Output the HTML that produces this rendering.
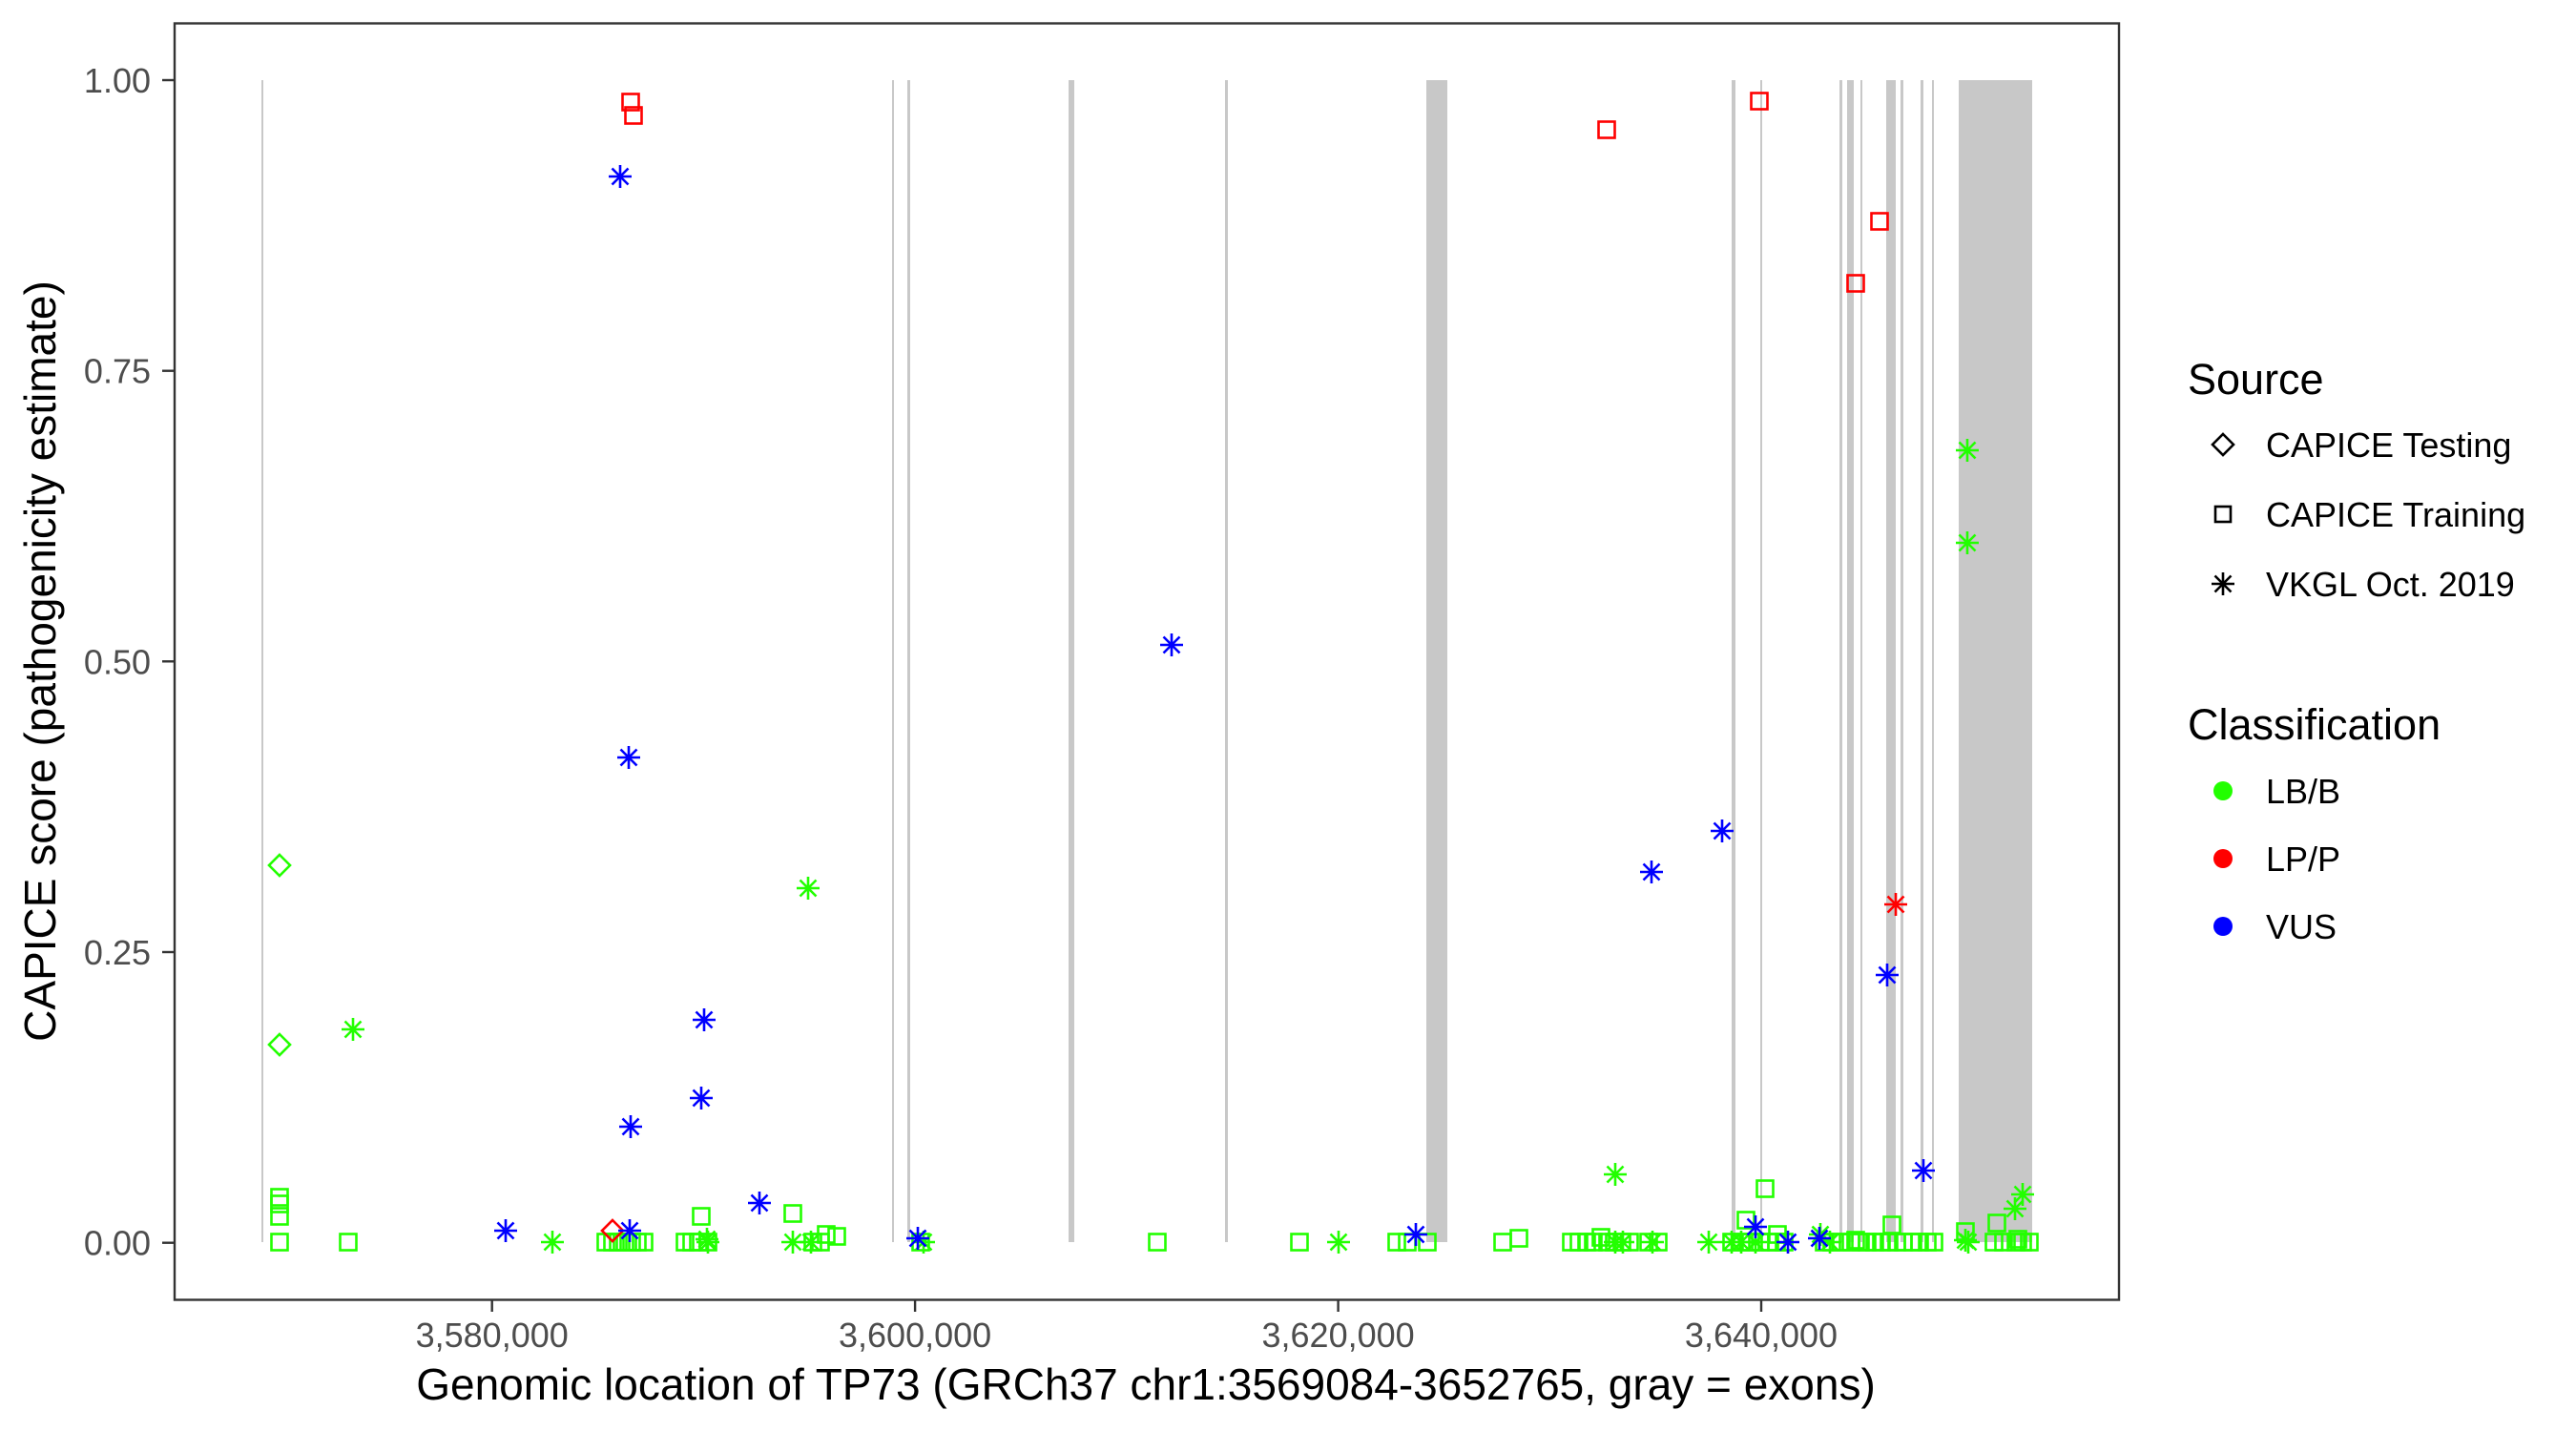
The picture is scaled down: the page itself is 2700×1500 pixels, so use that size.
<!DOCTYPE html>
<html><head><meta charset="utf-8"><style>
html,body{margin:0;padding:0;background:#fff;}
svg{display:block;font-family:"Liberation Sans",Arial,sans-serif;}
</style></head><body>
<svg width="2700" height="1500" viewBox="0 0 2700 1500" xmlns="http://www.w3.org/2000/svg">
<defs>
<symbol id="sq" overflow="visible"><rect x="-8.5" y="-8.5" width="17" height="17" fill="none" stroke="currentColor" stroke-width="2.6"/></symbol>
<symbol id="dia" overflow="visible"><path d="M0,-11 L11,0 L0,11 L-11,0 Z" fill="none" stroke="currentColor" stroke-width="2.6"/></symbol>
<symbol id="ast" overflow="visible"><path d="M-12,0H12M0,-12V12M-8.5,-8.5L8.5,8.5M-8.5,8.5L8.5,-8.5" fill="none" stroke="currentColor" stroke-width="2.6"/></symbol>
</defs>
<rect width="2700" height="1500" fill="#fff"/>
<g fill="#C8C8C8">
<rect x="274" y="84" width="2" height="1218"/>
<rect x="935" y="84" width="2" height="1218"/>
<rect x="951" y="84" width="3" height="1218"/>
<rect x="1120" y="84" width="6" height="1218"/>
<rect x="1284" y="84" width="3" height="1218"/>
<rect x="1495" y="84" width="22" height="1218"/>
<rect x="1815" y="84" width="4" height="1218"/>
<rect x="1845" y="84" width="2" height="1218"/>
<rect x="1928" y="84" width="3" height="1218"/>
<rect x="1936" y="84" width="7" height="1218"/>
<rect x="1950" y="84" width="2" height="1218"/>
<rect x="1977" y="84" width="10" height="1218"/>
<rect x="1992" y="84" width="3" height="1218"/>
<rect x="2013" y="84" width="3" height="1218"/>
<rect x="2025" y="84" width="2" height="1218"/>
<rect x="2053" y="84" width="77" height="1218"/>
</g>
<g style="color:#22ff00">
<use href="#sq" x="293" y="1255"/><use href="#sq" x="293" y="1262"/><use href="#sq" x="293" y="1275"/><use href="#sq" x="293" y="1302"/><use href="#sq" x="365" y="1302"/>
<use href="#sq" x="635" y="1302"/><use href="#sq" x="642" y="1302"/><use href="#sq" x="648" y="1302"/><use href="#sq" x="655" y="1302"/><use href="#sq" x="662" y="1302"/><use href="#sq" x="668" y="1302"/><use href="#sq" x="675" y="1302"/>
<use href="#sq" x="718" y="1302"/><use href="#sq" x="725" y="1302"/><use href="#sq" x="732" y="1302"/><use href="#sq" x="742" y="1302"/><use href="#sq" x="735" y="1275"/>
<use href="#sq" x="831" y="1272"/><use href="#sq" x="852" y="1302"/><use href="#sq" x="866" y="1294"/><use href="#sq" x="877" y="1296"/><use href="#sq" x="860" y="1302"/>
<use href="#sq" x="965" y="1302"/><use href="#sq" x="1213" y="1302"/><use href="#sq" x="1362" y="1302"/><use href="#sq" x="1464" y="1302"/><use href="#sq" x="1475" y="1302"/><use href="#sq" x="1496" y="1302"/><use href="#sq" x="1575" y="1302"/><use href="#sq" x="1592" y="1298"/>
<use href="#sq" x="1647" y="1302"/><use href="#sq" x="1655" y="1302"/><use href="#sq" x="1663" y="1302"/><use href="#sq" x="1670" y="1302"/><use href="#sq" x="1678" y="1297"/><use href="#sq" x="1685" y="1302"/><use href="#sq" x="1692" y="1302"/><use href="#sq" x="1700" y="1302"/><use href="#sq" x="1708" y="1302"/><use href="#sq" x="1728" y="1302"/><use href="#sq" x="1738" y="1302"/>
<use href="#sq" x="1850" y="1246"/><use href="#sq" x="1830" y="1279"/><use href="#sq" x="1863" y="1294"/>
<use href="#sq" x="1815" y="1302"/><use href="#sq" x="1825" y="1302"/><use href="#sq" x="1835" y="1302"/><use href="#sq" x="1845" y="1302"/><use href="#sq" x="1855" y="1302"/><use href="#sq" x="1862" y="1302"/><use href="#sq" x="1870" y="1302"/>
<use href="#sq" x="1912" y="1302"/><use href="#sq" x="1920" y="1302"/><use href="#sq" x="1930" y="1302"/><use href="#sq" x="1940" y="1302"/><use href="#sq" x="1950" y="1302"/><use href="#sq" x="1957" y="1302"/><use href="#sq" x="1945" y="1300"/>
<use href="#sq" x="1965" y="1302"/><use href="#sq" x="1972" y="1302"/><use href="#sq" x="1980" y="1302"/><use href="#sq" x="1988" y="1302"/><use href="#sq" x="1995" y="1302"/><use href="#sq" x="1983" y="1284"/>
<use href="#sq" x="2005" y="1302"/><use href="#sq" x="2012" y="1302"/><use href="#sq" x="2020" y="1302"/><use href="#sq" x="2027" y="1302"/><use href="#sq" x="2060" y="1291"/><use href="#sq" x="2093" y="1282"/>
<use href="#sq" x="2090" y="1302"/><use href="#sq" x="2100" y="1302"/><use href="#sq" x="2113" y="1302"/><use href="#sq" x="2120" y="1302"/><use href="#sq" x="2127" y="1302"/><use href="#sq" x="2115" y="1299"/>
<use href="#ast" x="370" y="1079"/><use href="#ast" x="847" y="931"/><use href="#ast" x="579" y="1302"/><use href="#ast" x="741" y="1299"/><use href="#ast" x="742" y="1302"/><use href="#ast" x="831" y="1302"/><use href="#ast" x="850" y="1302"/><use href="#ast" x="968" y="1302"/><use href="#ast" x="1403" y="1302"/><use href="#ast" x="1693" y="1231"/><use href="#ast" x="1693" y="1302"/><use href="#ast" x="1701" y="1302"/><use href="#ast" x="1732" y="1302"/><use href="#ast" x="1791" y="1302"/><use href="#ast" x="1815" y="1302"/><use href="#ast" x="1825" y="1302"/><use href="#ast" x="1840" y="1302"/><use href="#ast" x="1908" y="1294"/><use href="#ast" x="1918" y="1302"/><use href="#ast" x="2062" y="472"/><use href="#ast" x="2062" y="569"/><use href="#ast" x="2063" y="1302"/><use href="#ast" x="2112" y="1267"/><use href="#ast" x="2120" y="1252"/><use href="#ast" x="2060" y="1300"/>
<use href="#dia" x="293" y="907"/><use href="#dia" x="293" y="1095"/>
</g>
<g style="color:#ff0000">
<use href="#sq" x="661" y="107"/><use href="#sq" x="664" y="121"/><use href="#sq" x="1684" y="136"/><use href="#sq" x="1844" y="106"/><use href="#sq" x="1970" y="232"/><use href="#sq" x="1945" y="297"/>
<use href="#ast" x="1987" y="948"/><use href="#dia" x="642" y="1290"/>
</g>
<g style="color:#0000ff">
<use href="#ast" x="650" y="185"/><use href="#ast" x="659" y="794"/><use href="#ast" x="738" y="1069"/><use href="#ast" x="735" y="1151"/><use href="#ast" x="661" y="1181"/><use href="#ast" x="530" y="1290"/><use href="#ast" x="660" y="1290"/><use href="#ast" x="796" y="1261"/><use href="#ast" x="962" y="1298"/><use href="#ast" x="1228" y="676"/><use href="#ast" x="1484" y="1294"/><use href="#ast" x="1840" y="1286"/><use href="#ast" x="1874" y="1302"/><use href="#ast" x="1907" y="1298"/><use href="#ast" x="2016" y="1227"/><use href="#ast" x="1805" y="871"/><use href="#ast" x="1731" y="914"/><use href="#ast" x="1978" y="1022"/>
</g>
<rect x="183" y="24.5" width="2038" height="1338" fill="none" stroke="#333" stroke-width="2.4"/>
<g stroke="#333" stroke-width="2.4">
<line x1="170" x2="182" y1="84" y2="84"/><line x1="170" x2="182" y1="388.7" y2="388.7"/><line x1="170" x2="182" y1="693.3" y2="693.3"/><line x1="170" x2="182" y1="998" y2="998"/><line x1="170" x2="182" y1="1302.7" y2="1302.7"/>
<line y1="1363" y2="1375" x1="515.7" x2="515.7"/><line y1="1363" y2="1375" x1="959.1" x2="959.1"/><line y1="1363" y2="1375" x1="1402.6" x2="1402.6"/><line y1="1363" y2="1375" x1="1846" x2="1846"/>
</g>
<g fill="#4d4d4d" font-size="36" text-anchor="end">
<text x="158" y="97">1.00</text><text x="158" y="401.7">0.75</text><text x="158" y="706.3">0.50</text><text x="158" y="1011">0.25</text><text x="158" y="1315.7">0.00</text>
</g>
<g fill="#4d4d4d" font-size="36" text-anchor="middle">
<text x="515.7" y="1412">3,580,000</text><text x="959.1" y="1412">3,600,000</text><text x="1402.6" y="1412">3,620,000</text><text x="1846" y="1412">3,640,000</text>
</g>
<text x="1201" y="1467" font-size="46" text-anchor="middle" fill="#000">Genomic location of TP73 (GRCh37 chr1:3569084-3652765, gray = exons)</text>
<text transform="translate(58,693) rotate(-90)" font-size="46" text-anchor="middle" fill="#000">CAPICE score (pathogenicity estimate)</text>
<text x="2293" y="413" font-size="45" fill="#000">Source</text>
<path d="M2330,455 L2341,466 L2330,477 L2319,466 Z" fill="none" stroke="#000" stroke-width="2.6"/>
<rect x="2322" y="531" width="16" height="16" fill="none" stroke="#000" stroke-width="2.6"/>
<path d="M2318,612H2342M2330,600V624M2321.5,603.5L2338.5,620.5M2321.5,620.5L2338.5,603.5" stroke="#000" stroke-width="2.6"/>
<g font-size="36" fill="#000">
<text x="2375" y="479">CAPICE Testing</text><text x="2375" y="552">CAPICE Training</text><text x="2375" y="625">VKGL Oct. 2019</text>
</g>
<text x="2293" y="775" font-size="45" fill="#000">Classification</text>
<circle cx="2330" cy="829" r="10" fill="#22ff00"/><circle cx="2330" cy="900" r="10" fill="#ff0000"/><circle cx="2330" cy="971" r="10" fill="#0000ff"/>
<g font-size="36" fill="#000">
<text x="2375" y="842">LB/B</text><text x="2375" y="913">LP/P</text><text x="2375" y="984">VUS</text>
</g>
</svg>
</body></html>
